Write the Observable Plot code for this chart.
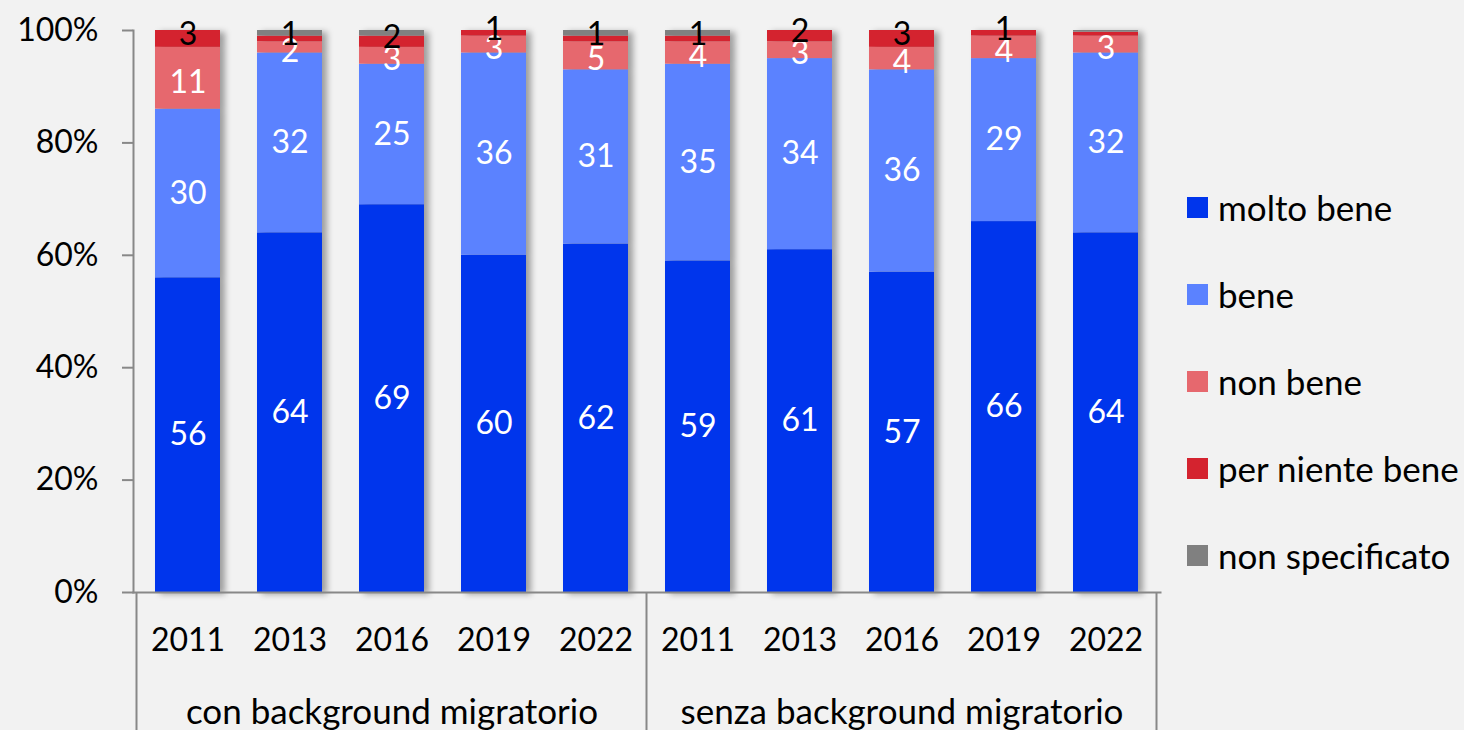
<!DOCTYPE html>
<html>
<head>
<meta charset="utf-8">
<script src="https://cdn.jsdelivr.net/npm/d3@7"></script>
<script src="https://cdn.jsdelivr.net/npm/@observablehq/plot@0.6"></script>
<style>
  html, body { margin: 0; padding: 0; background: #f2f2f2; }
  body { font-family: Lato, "Open Sans", sans-serif; }
  #wrap { position: relative; width: 1464px; height: 730px; overflow: hidden; }
  .bars { filter: drop-shadow(5px 2px 3px rgba(0,0,0,0.35)); }
  #legend { position: absolute; left: 1187px; top: 0; }
  .item { position: absolute; left: 0; display: flex; align-items: center; white-space: nowrap; font-size: 35px; color: #000; height: 40px; }
  .sw { width: 21px; height: 21px; margin-right: 10px; flex: none; }
</style>
</head>
<body>
<div id="wrap"><div id="chart"></div><div id="legend"></div></div>
<script>
const groups = ["con background migratorio", "senza background migratorio"];
const years = ["2011", "2013", "2016", "2019", "2022"];
const categories = ["molto bene", "bene", "non bene", "per niente bene", "non specificato"];
const colors = ["#0035ec", "#5b82ff", "#e6686e", "#d4232f", "#808080"];
const yTicks = [0, 20, 40, 60, 80, 100];

// values per bar: first 5 = con background, next 5 = senza background
const moltoBene      = [56, 64, 69, 60, 62, 59, 61, 57, 66, 64];
const bene           = [30, 32, 25, 36, 31, 35, 34, 36, 29, 32];
const nonBene        = [11,  2,  3,  3,  5,  4,  3,  4,  4,  3];
const perNienteBene  = [ 3,  1,  2,  1,  1,  1,  2,  3,  1, 0.7];
const nonSpecificato = [ 0,  1,  1,  0,  1,  1,  0,  0,  0, 0.3];

const series = [moltoBene, bene, nonBene, perNienteBene, nonSpecificato];
const keys = [];
groups.forEach(g => years.forEach(y => keys.push(g + "|" + y)));

const rows = [];
keys.forEach((k, i) => {
  categories.forEach((c, j) => {
    rows.push({key: k, cat: c, value: series[j][i]});
  });
});

const bigCats = new Set(["molto bene", "bene"]);
const labelWhiteBig = d => (bigCats.has(d.cat) && d.value >= 1) ? String(Math.round(d.value)) : "";
const labelWhiteSmall = d => (d.cat === "non bene" && d.value >= 1) ? String(Math.round(d.value)) : "";
const labelBlack = d => (d.cat === "per niente bene" && d.value >= 1) ? String(Math.round(d.value)) : "";

const stackOpts = {x: "key", y: "value", z: "cat", order: categories};

const plot = Plot.plot({
  width: 1464,
  height: 730,
  marginLeft: 133,
  marginRight: 304,
  marginTop: 30,
  marginBottom: 138,
  style: {background: "transparent", fontFamily: "Lato, 'Open Sans', sans-serif", fontSize: "32px", color: "#000", overflow: "visible"},
  x: {domain: keys, paddingInner: 0.36, paddingOuter: 0.18},
  y: {domain: [0, 100]},
  color: {domain: categories, range: colors},
  marks: [
    Plot.barY(rows, Plot.stackY({x: "key", y: "value", fill: "cat", order: categories, className: "bars"})),
    Plot.text(rows, Plot.stackY({...stackOpts, text: labelWhiteBig, fill: "white", fontSize: 32})),
    Plot.text(rows, Plot.stackY({...stackOpts, text: labelWhiteSmall, fill: "white", fontSize: 32, dy: 4})),
    Plot.text(rows, Plot.stackY({...stackOpts, text: labelBlack, fill: "black", fontSize: 32, dy: -4})),
    Plot.axisY({ticks: yTicks, tickFormat: d => d + "%", tickSize: 11, tickPadding: 24, stroke: "#888", strokeWidth: 2, label: null, fontSize: 32}),
    Plot.axisX({tickFormat: d => d.split("|")[1], tickSize: 0, tickPadding: 36, label: null, fontSize: 32}),
    Plot.frame({anchor: "left", stroke: "#888", strokeWidth: 2}),
    Plot.frame({anchor: "bottom", stroke: "#888", strokeWidth: 2}),
    Plot.text(groups, {x: d => d + "|" + years[2], text: d => d, frameAnchor: "bottom", dy: 120, lineAnchor: "middle", fontSize: 35})
  ]
});

document.getElementById("chart").appendChild(plot);

// group separators below the axis, derived from the x band scale
const xs = plot.scale("x");
const gap = xs.step - xs.bandwidth;
const bottom = 730 - 138;
const svg = d3.select(plot);
const sepG = svg.append("g").attr("stroke", "#888").attr("stroke-width", 2);
const bounds = [];
groups.forEach(g => {
  bounds.push(xs.apply(g + "|" + years[0]) - gap / 2);
});
bounds.push(xs.apply(groups[1] + "|" + years[years.length - 1]) + xs.bandwidth + gap / 2);
bounds.forEach(bx => {
  sepG.append("line").attr("x1", bx).attr("x2", bx).attr("y1", bottom).attr("y2", 730);
});

// legend
const legend = document.getElementById("legend");
categories.forEach((c, i) => {
  const it = document.createElement("div");
  it.className = "item";
  it.style.top = (207 - 20 + i * 87) + "px";
  it.innerHTML = `<span class="sw" style="background:${colors[i]}"></span><span>${c}</span>`;
  legend.appendChild(it);
});
</script>
</body>
</html>
